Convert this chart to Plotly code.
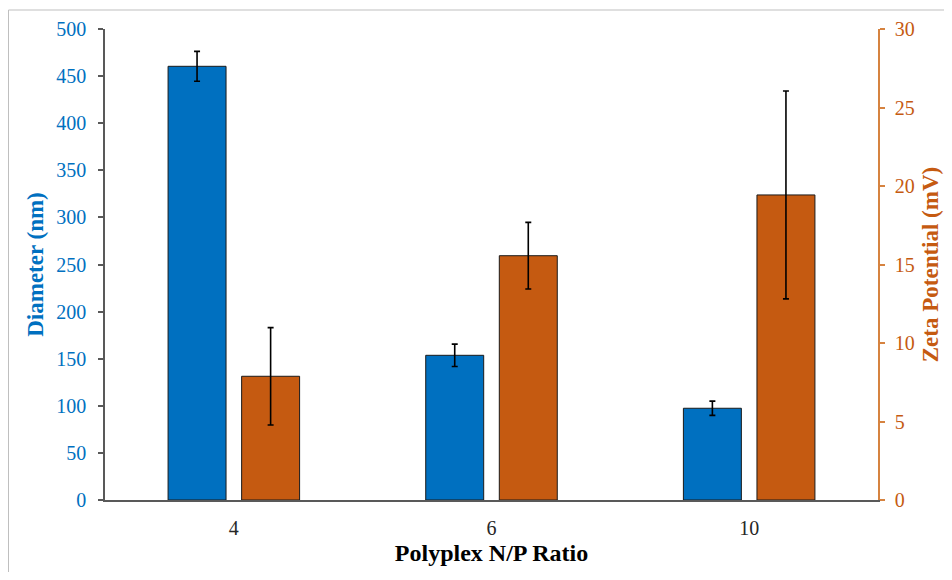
import plotly.graph_objects as go

categories = ["4", "6", "10"]
diameter = [460.4, 153.6, 97.4]
diameter_err = [15.8, 11.9, 7.6]
zeta = [7.88, 15.56, 19.43]
zeta_err = [3.1, 2.12, 6.62]

BLUE = "#0070C0"
ORANGE = "#C55A11"
FONT = "Liberation Serif"

# page has an 8px body margin; figure is sized to fit the 952x580 window
W, H = 936, 564
L, R, T, B = 97, 66, 21, 72
PW, PH = W - L - R, H - T - B

fig = go.Figure()
fig.add_trace(go.Bar(
    x=categories, y=diameter, name="Diameter", offsetgroup=1,
    marker=dict(color=BLUE, line=dict(color="#1a1a1a", width=1)),
    error_y=dict(type="data", array=diameter_err, color="black", thickness=1.6, width=3),
    yaxis="y"))
fig.add_trace(go.Bar(
    x=categories, y=zeta, name="Zeta", offsetgroup=2,
    marker=dict(color=ORANGE, line=dict(color="#1a1a1a", width=1)),
    error_y=dict(type="data", array=zeta_err, color="black", thickness=1.6, width=3),
    yaxis="y2"))

fig.update_layout(
    width=W, height=H,
    margin=dict(l=L, r=R, t=T, b=B, autoexpand=False),
    paper_bgcolor="white", plot_bgcolor="white",
    barmode="group", bargap=0.429, bargroupgap=0.212,
    showlegend=False,
    font=dict(family=FONT, size=20, color="black"),
    xaxis=dict(
        type="category", automargin=False, showgrid=False, showline=True, linecolor="#595959", linewidth=1.5,
        ticks="", tickfont=dict(family=FONT, size=20, color="#262626"),
        ticklabelstandoff=9,
        title=dict(text="<b>Polyplex N/P Ratio</b>", font=dict(family=FONT, size=24, color="black"), standoff=6),
    ),
    yaxis=dict(
        range=[0, 500], dtick=50, automargin=False, showgrid=False, zeroline=False,
        showline=True, linecolor="#595959", linewidth=1.5,
        ticks="outside", ticklen=5, tickcolor="#595959", tickwidth=1.5,
        tickfont=dict(family=FONT, size=20, color=BLUE),
        ticklabelstandoff=8,
        title=dict(text="<b>Diameter (nm)</b>", font=dict(family=FONT, size=23, color=BLUE), standoff=6),
    ),
    yaxis2=dict(
        range=[0, 30], dtick=5, automargin=False, overlaying="y", side="right", showgrid=False, zeroline=False,
        showline=True, linecolor="#D68340", linewidth=1.5,
        ticks="outside", ticklen=5, tickcolor="#D68340", tickwidth=1.5,
        tickfont=dict(family=FONT, size=20, color=ORANGE),
        ticklabelstandoff=6,
        title=dict(text="<b>Zeta Potential (mV)</b>", font=dict(family=FONT, size=23, color=ORANGE), standoff=8),
    ),
)

# outer frame (left and top edges visible in the reference)
top_y = (H - B - 2) / PH
left_x = (0.5 - L) / PW
fig.add_shape(type="line", xref="paper", yref="paper", x0=left_x, x1=(W - L) / PW,
              y0=top_y, y1=top_y, line=dict(color="#BFBFBF", width=1))
fig.add_shape(type="line", xref="paper", yref="paper", x0=left_x, x1=left_x,
              y0=top_y, y1=-B / PH, line=dict(color="#BFBFBF", width=1))

fig.write_html("out.html")
